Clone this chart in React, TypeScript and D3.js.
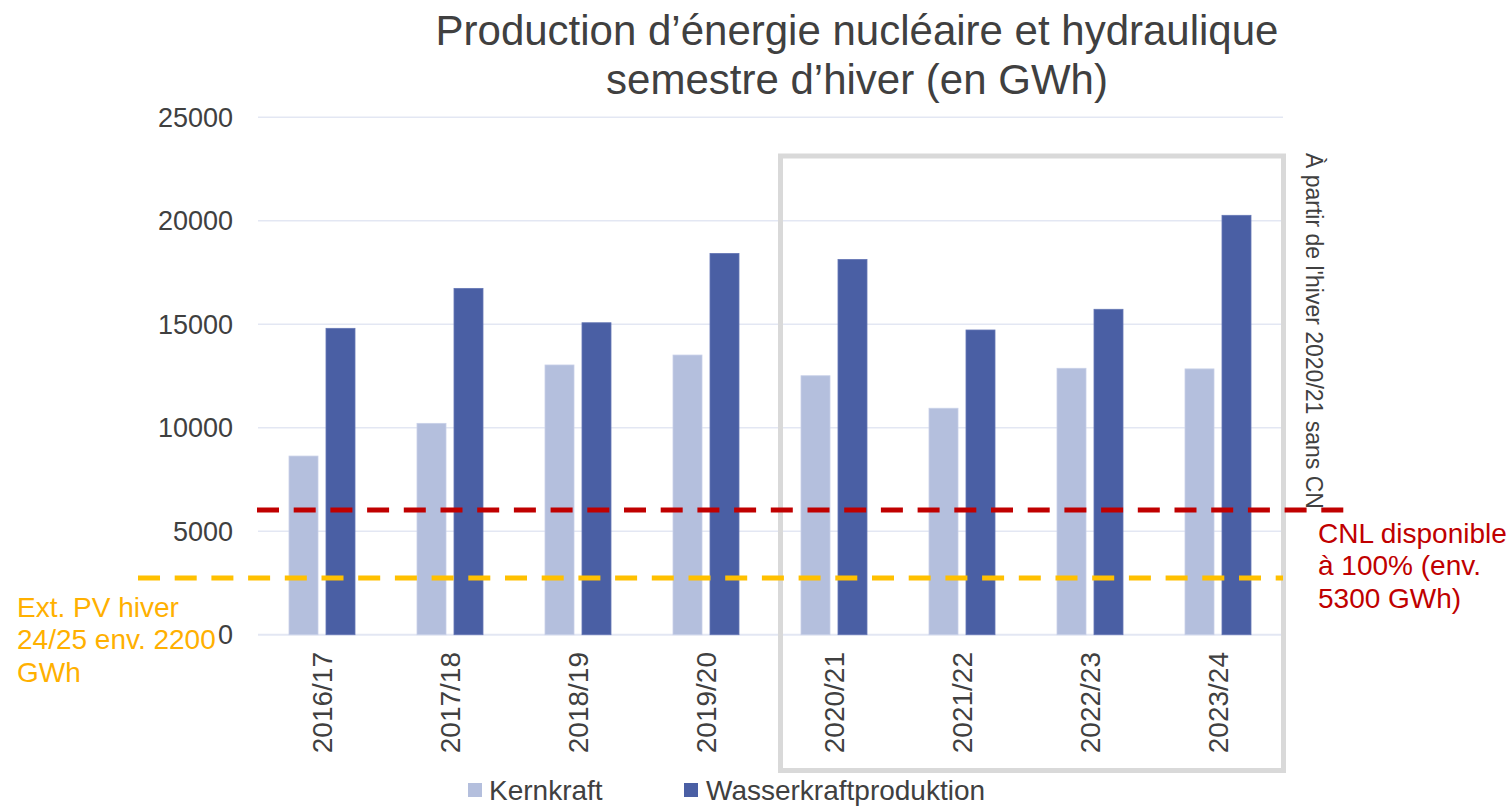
import React from "react";
import * as d3 from "d3";

const categories = ["2016/17", "2017/18", "2018/19", "2019/20", "2020/21", "2021/22", "2022/23", "2023/24"];
const kernkraft = [8630, 10210, 13030, 13510, 12510, 10940, 12870, 12840];
const wasserkraft = [14800, 16730, 15070, 18420, 18130, 14720, 15720, 20260];
const seriesNames = ["Kernkraft", "Wasserkraftproduktion"];
const yTicks = [0, 5000, 10000, 15000, 20000, 25000];
const cnlLine = 6020;
const pvLine = 2740;

const W = 1512;
const H = 806;
const FONT = "'Liberation Sans', Arial, sans-serif";
const TXT = "#404040";
const C_KERN = "#b4bfdd";
const C_WASSER = "#4a5fa4";
const C_RED = "#c00000";
const C_YEL = "#ffc000";
const C_YEL_TXT = "#ffb000";
const GRID = "#e3e7f3";

export default function App() {
  const x0 = d3.scaleBand<string>().domain(categories).range([258, 1282]).paddingInner(0).paddingOuter(0);
  const groupW = 66;
  const x1 = d3.scaleBand<string>().domain(seriesNames).range([0, groupW]).paddingInner(0.216).paddingOuter(0);
  const y = d3.scaleLinear().domain([0, 25000]).range([634.7, 117.2]);
  const off = (x0.bandwidth() - groupW) / 2;
  const series = [kernkraft, wasserkraft];
  const colors = [C_KERN, C_WASSER];

  return (
    <svg width={W} height={H} style={{ position: "absolute", left: 0, top: 0, background: "#fff" }} fontFamily={FONT}>
      <rect x={0} y={0} width={W} height={H} fill="#fff" />
      {/* title */}
      <text x={857} y={45} textAnchor="middle" fontSize={42} fill={TXT}>Production d’énergie nucléaire et hydraulique</text>
      <text x={857} y={94} textAnchor="middle" fontSize={42} fill={TXT}>semestre d’hiver (en GWh)</text>

      {/* grid */}
      {yTicks.map((t) => (
        <line key={t} x1={258} x2={1283} y1={y(t)} y2={y(t)} stroke={GRID} strokeWidth={t === 0 ? 2 : 1.5} />
      ))}
      {yTicks.map((t) => (
        <text key={"l" + t} x={233} y={y(t)} dy="0.36em" textAnchor="end" fontSize={27} fill={TXT}>{t}</text>
      ))}

      {/* bars */}
      {series.map((vals, si) =>
        categories.map((c, i) => (
          <rect
            key={si + "-" + c}
            x={(x0(c) as number) + off + (x1(seriesNames[si]) as number)}
            y={y(vals[i])}
            width={x1.bandwidth()}
            height={y(0) - y(vals[i])}
            fill={colors[si]}
            stroke={si === 0 ? "#c8d0e8" : "#6577b5"}
            strokeWidth={0.8}
          />
        ))
      )}

      {/* x labels */}
      {categories.map((c) => {
        const cx = (x0(c) as number) + x0.bandwidth() / 2;
        return (
          <text key={"x" + c} transform={`translate(${cx + 10},652) rotate(-90)`} textAnchor="end" fontSize={28} fill={TXT}>{c}</text>
        );
      })}

      {/* gray box */}
      <rect x={780.5} y={156} width={503} height={614.5} fill="none" stroke="#d9d9d9" strokeWidth={5} />

      {/* reference lines */}
      <line x1={138} x2={1283} y1={y(pvLine)} y2={y(pvLine)} stroke={C_YEL} strokeWidth={5} strokeDasharray="22 14.7" />
      <line x1={257} x2={1347} y1={y(cnlLine)} y2={y(cnlLine)} stroke={C_RED} strokeWidth={5} strokeDasharray="22 14.7" />

      {/* rotated note */}
      <text transform="translate(1306,153) rotate(90)" fontSize={23} fill={TXT}>À partir de l'hiver 2020/21 sans CN</text>

      {/* annotations */}
      <g fontSize={28} fill={C_YEL_TXT}>
        <text x={17} y={617}>Ext. PV hiver</text>
        <text x={17} y={649}>24/25 env. 2200</text>
        <text x={17} y={682}>GWh</text>
      </g>
      <g fontSize={28} fill={C_RED}>
        <text x={1318} y={543}>CNL disponible</text>
        <text x={1318} y={575}>à 100% (env.</text>
        <text x={1318} y={608}>5300 GWh)</text>
      </g>

      {/* legend */}
      <rect x={468} y={783} width={14} height={14} fill={C_KERN} />
      <text x={489} y={800} fontSize={28} fill={TXT}>{seriesNames[0]}</text>
      <rect x={684} y={783} width={14} height={14} fill={C_WASSER} />
      <text x={706} y={800} fontSize={28} fill={TXT}>{seriesNames[1]}</text>
    </svg>
  );
}
